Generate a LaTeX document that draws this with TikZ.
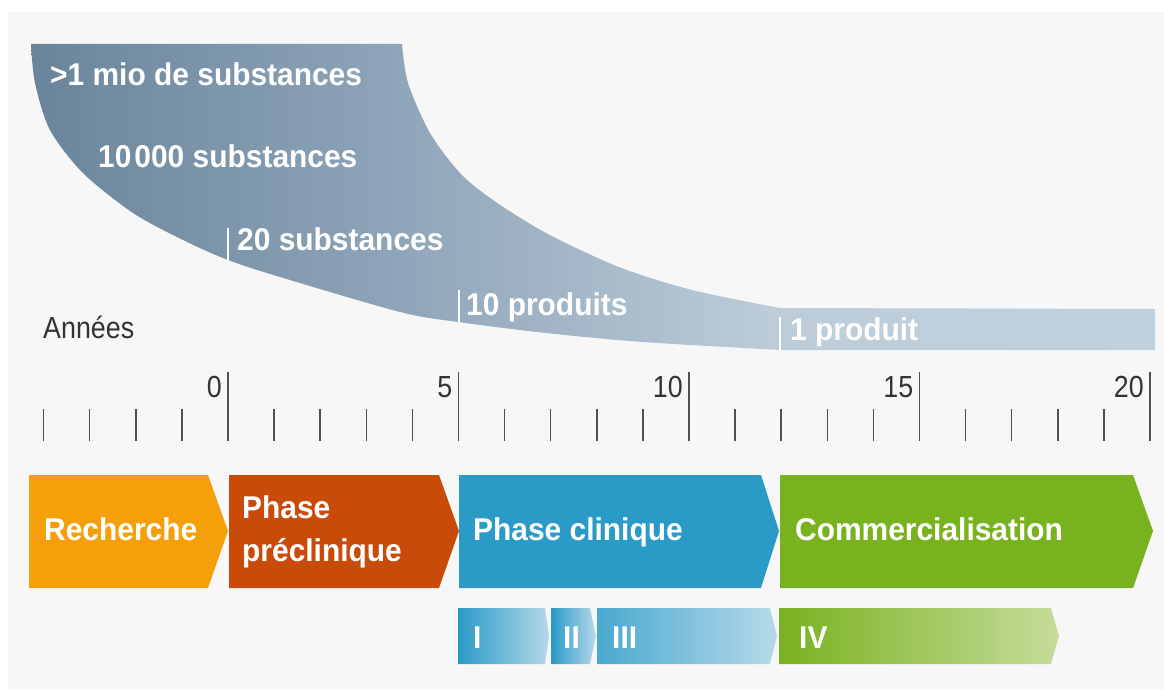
\documentclass[tikz,border=0pt]{standalone}
\usepackage{fontspec}
\newfontfamily\condreg[FakeStretch=0.88]{Liberation Sans}
\newfontfamily\condbold[FakeStretch=0.95]{Liberation Sans}
\definecolor{bg}{HTML}{F7F7F7}
\definecolor{fA}{HTML}{6A859B}
\definecolor{fB}{HTML}{8EA4B8}
\definecolor{fC}{HTML}{BCCCD9}
\definecolor{fD}{HTML}{C1D0DD}
\definecolor{cRech}{HTML}{F5A00A}
\definecolor{cPre}{HTML}{C84B0A}
\definecolor{cClin}{HTML}{2A9AC7}
\definecolor{cClinL}{HTML}{B7D9EA}
\definecolor{cCom}{HTML}{79B21F}
\definecolor{cComL}{HTML}{C6DC9B}
\definecolor{tickc}{HTML}{505050}
\definecolor{txtc}{HTML}{333333}
\pgfdeclarehorizontalshading{funnelshade}{100bp}{color(0bp)=(fA); color(25bp)=(fA); color(41bp)=(fB); color(58bp)=(fC); color(75bp)=(fD); color(100bp)=(fD)}
\tikzset{
  wlab/.style={inner sep=0pt, anchor=base west, text=white, font=\condbold\bfseries\fontsize{31.5}{36}\selectfont},
  glab/.style={inner sep=0pt, text=txtc, font=\condreg\fontsize{30.5}{34}\selectfont},
  mark line/.style={white, line width=1.2pt},
  minortick/.style={tickc, line width=1.5pt},
  majortick/.style={tickc, line width=1.7pt},
}
\begin{document}
\begin{tikzpicture}[x=1pt,y=-1pt]
\useasboundingbox (0,0) rectangle (1164,693);
\fill[white] (0,0) rectangle (1164,693);
\fill[bg] (8,12) rectangle (1164,690);
% funnel
\shade[shading=funnelshade] plot[smooth,tension=0.5] coordinates {(402,44) (408,83) (430,133) (460,173) (493,200) (546,233) (619,267) (692,290) (780,308)} -- (1155,309) -- (1155,350) -- (780,350) -- plot[smooth,tension=0.5] coordinates {(780,350) (643,342) (546,333) (458,322) (400,312) (280,277) (228,260) (183,240) (133,213) (83,173) (50,130) (35,83) (31,44)} -- cycle;
\draw[mark line] (228,228) -- (228,261);
\draw[mark line] (459,290) -- (459,322);
\draw[mark line] (780,317) -- (780,350);
\node[wlab] (t1) at (50,85) {>1 mio de substances};
\node[wlab] (t2) at (98,167) {10\kern3pt000 substances};
\node[wlab] (t3) at (237,250) {20 substances};
\node[wlab] (t4) at (466,315) {10 produits};
\node[wlab] (t5) at (790,340) {1 produit};
\node[glab, anchor=base west] (annees) at (43,338) {Années};
% axis
\foreach \i in {-4,...,20}{
  \pgfmathsetmacro{\xx}{228+\i*46.1}
  \draw[minortick] (\xx,409) -- (\xx,441);
}
\foreach \i in {0,5,10,15,20}{
  \pgfmathsetmacro{\xx}{228+\i*46.1}
  \draw[majortick] (\xx,372) -- (\xx,441);
  \node[glab, anchor=base east] (n\i) at (\xx-6,397) {\i};
}
% main phases
\fill[cRech] (29,475) -- (208,475) -- (228,531) -- (208,588) -- (29,588) -- cycle;
\fill[cPre] (229,475) -- (439,475) -- (459,531) -- (439,588) -- (229,588) -- cycle;
\fill[cClin] (459,475) -- (761,475) -- (779,531) -- (761,588) -- (459,588) -- cycle;
\fill[cCom] (780,475) -- (1133,475) -- (1153,531) -- (1133,588) -- (780,588) -- cycle;
\node[wlab] (rech) at (44,540) {Recherche};
\node[wlab] (pre1) at (242,518) {Phase};
\node[wlab] (pre2) at (242,561) {préclinique};
\node[wlab] (clin) at (473,540) {Phase clinique};
\node[wlab] (com) at (795,540) {Commercialisation};
% sub phases
\shade[left color=cClin, right color=cClinL] (458,608) -- (545,608) -- (549,636) -- (545,664) -- (458,664) -- cycle;
\shade[left color=cClin, right color=cClinL] (551,608) -- (590,608) -- (596,636) -- (590,664) -- (551,664) -- cycle;
\shade[left color=cClin!85!white, right color=cClinL] (597,608) -- (770,608) -- (777,636) -- (770,664) -- (597,664) -- cycle;
\shade[left color=cCom, right color=cComL] (779,608) -- (1051,608) -- (1059,636) -- (1051,664) -- (779,664) -- cycle;
\node[wlab] (p1) at (473,648) {I};
\node[wlab] (p2) at (563,648) {II};
\node[wlab] (p3) at (612,648) {III};
\node[wlab] (p4) at (799,648) {IV};
\end{tikzpicture}
\end{document}
